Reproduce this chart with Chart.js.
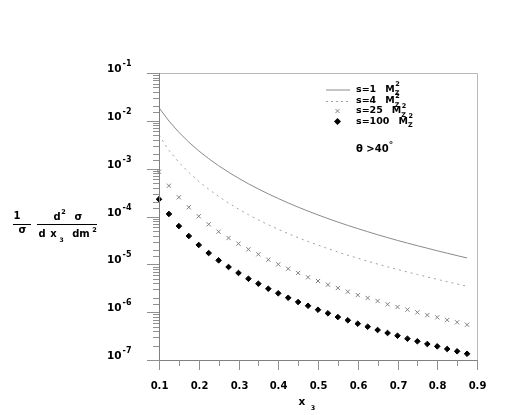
<!DOCTYPE html>
<html>
<head>
<meta charset="utf-8">
<script src="https://cdn.jsdelivr.net/npm/chart.js@4.4.1/dist/chart.umd.min.js"></script>
<style>
  html, body { margin: 0; padding: 0; background: #fff; }
</style>
</head>
<body>
<canvas id="c" width="512" height="415"></canvas>
<script>
// x3 values where the curves were sampled
const xValues = [0.1, 0.125, 0.15, 0.175, 0.2, 0.225, 0.25, 0.275, 0.3, 0.325, 0.35, 0.375,
  0.4, 0.425, 0.45, 0.475, 0.5, 0.525, 0.55, 0.575, 0.6, 0.625, 0.65, 0.675, 0.7, 0.725,
  0.75, 0.775, 0.8, 0.825, 0.85, 0.875];

// s = 1 MZ^2 (solid)
const s1 = [1.88e-2, 9.92e-3, 5.76e-3, 3.59e-3, 2.36e-3, 1.62e-3, 1.153e-3, 8.43e-4, 6.32e-4, 4.83e-4,
  3.76e-4, 2.97e-4, 2.38e-4, 1.92e-4, 1.57e-4, 1.296e-4, 1.08e-4, 9.06e-5, 7.65e-5, 6.51e-5,
  5.58e-5, 4.81e-5, 4.16e-5, 3.62e-5, 3.16e-5, 2.78e-5, 2.45e-5, 2.17e-5, 1.92e-5, 1.71e-5,
  1.52e-5, 1.36e-5];

// s = 4 MZ^2 (dotted)
const s4 = [5.05e-3, 2.4e-3, 1.358e-3, 8.35e-4, 5.44e-4, 3.72e-4, 2.63e-4, 1.91e-4, 1.427e-4, 1.09e-4,
  8.49e-5, 6.72e-5, 5.4e-5, 4.39e-5, 3.61e-5, 3.0e-5, 2.52e-5, 2.13e-5, 1.81e-5, 1.55e-5,
  1.34e-5, 1.162e-5, 1.013e-5, 8.87e-6, 7.81e-6, 6.91e-6, 6.12e-6, 5.44e-6, 4.85e-6, 4.33e-6,
  3.88e-6, 3.48e-6];

// s = 25 MZ^2 (crosses)
const s25 = [8.65e-4, 4.4e-4, 2.52e-4, 1.56e-4, 1.01e-4, 6.87e-5, 4.81e-5, 3.55e-5, 2.7e-5, 2.06e-5,
  1.62e-5, 1.25e-5, 1.0e-5, 8.1e-6, 6.6e-6, 5.36e-6, 4.48e-6, 3.75e-6, 3.2e-6, 2.68e-6,
  2.28e-6, 1.98e-6, 1.71e-6, 1.46e-6, 1.28e-6, 1.13e-6, 9.9e-7, 8.7e-7, 7.8e-7, 6.86e-7,
  6.14e-7, 5.47e-7];

// s = 100 MZ^2 (diamonds)
const s100 = [2.29e-4, 1.13e-4, 6.3e-5, 3.9e-5, 2.54e-5, 1.72e-5, 1.21e-5, 8.8e-6, 6.6e-6, 5.0e-6,
  3.94e-6, 3.09e-6, 2.48e-6, 2.0e-6, 1.63e-6, 1.36e-6, 1.125e-6, 9.46e-7, 7.9e-7, 6.76e-7,
  5.74e-7, 4.97e-7, 4.24e-7, 3.67e-7, 3.22e-7, 2.79e-7, 2.46e-7, 2.16e-7, 1.93e-7, 1.7e-7,
  1.52e-7, 1.35e-7];

const legendLabels = ["s=1", "s=4", "s=25", "s=100"];
const xMin = 0.1, xMax = 0.9;
const yMin = 1e-7, yMax = 1e-1;

const FONT = '"DejaVu Sans", "Liberation Sans", sans-serif';

function pts(arr) {
  return xValues.map((x, i) => ({ x: x, y: arr[i] }));
}

function txt(ctx, s, x, y, size, align) {
  ctx.font = "bold " + size + "px " + FONT;
  ctx.textAlign = align || "left";
  ctx.textBaseline = "middle";
  ctx.fillText(s, x, y);
  return ctx.measureText(s).width;
}

const extras = {
  id: "extras",
  afterDraw(chart) {
    const ctx = chart.ctx;
    const a = chart.chartArea;
    const xs = chart.scales.x, ys = chart.scales.y;
    ctx.save();
    ctx.fillStyle = "#000";
    ctx.lineWidth = 1;

    // frame: top and right light, axes darker
    ctx.strokeStyle = "#b8b8b8";
    ctx.beginPath();
    ctx.moveTo(a.left, a.top + 0.5);
    ctx.lineTo(a.right + 0.5, a.top + 0.5);
    ctx.lineTo(a.right + 0.5, a.bottom);
    ctx.stroke();
    ctx.strokeStyle = "#808080";
    ctx.beginPath();
    ctx.moveTo(a.left + 0.5, a.top);
    ctx.lineTo(a.left + 0.5, a.bottom + 0.5);
    ctx.lineTo(a.right + 1, a.bottom + 0.5);
    ctx.stroke();

    // y ticks and labels
    ys.ticks.forEach(t => {
      const p = Math.round(ys.getPixelForValue(t.value)) + 0.5;
      const lg = Math.log10(t.value);
      const major = Math.abs(lg - Math.round(lg)) < 1e-6;
      ctx.strokeStyle = "#909090";
      ctx.beginPath();
      ctx.moveTo(a.left - (major ? 12 : 6), p);
      ctx.lineTo(a.left, p);
      ctx.stroke();
      if (major) {
        const w = txt(ctx, "10", 107, p - 4, 10.5);
        txt(ctx, "-" + Math.abs(Math.round(lg)), 107 + w + 1, p - 10, 8);
      }
    });

    // x ticks and labels
    xs.ticks.forEach(t => {
      const p = Math.round(xs.getPixelForValue(t.value)) + 0.5;
      const major = Math.abs(t.value * 10 - Math.round(t.value * 10)) < 1e-6;
      ctx.strokeStyle = "#909090";
      ctx.beginPath();
      ctx.moveTo(p, a.bottom);
      ctx.lineTo(p, a.bottom + (major ? 10 : 6));
      ctx.stroke();
      if (major) txt(ctx, t.value.toFixed(1), p, 386, 10, "center");
    });

    // x axis title
    txt(ctx, "x", 302, 402, 10.5, "center");
    txt(ctx, "3", 313, 408, 6.5, "center");

    // y axis title: 1/sigma d2sigma/(dx3 dm2)
    ctx.strokeStyle = "#000";
    txt(ctx, "1", 17, 216, 10, "center");
    ctx.beginPath(); ctx.moveTo(13, 224.5); ctx.lineTo(31, 224.5); ctx.stroke();
    txt(ctx, "σ", 22.5, 230, 10, "center");
    txt(ctx, "d", 57, 217, 10, "center");
    txt(ctx, "2", 63.5, 212, 6.5, "center");
    txt(ctx, "σ", 78.5, 217, 10, "center");
    ctx.beginPath(); ctx.moveTo(37, 224.5); ctx.lineTo(97, 224.5); ctx.stroke();
    txt(ctx, "d", 42, 234, 10, "center");
    txt(ctx, "x", 53.5, 234, 10, "center");
    txt(ctx, "3", 61.5, 240, 6, "center");
    txt(ctx, "dm", 81, 234, 10, "center");
    txt(ctx, "2", 94.5, 230, 6.5, "center");

    // legend
    const rows = [89.5, 101, 111, 121.5];
    ctx.strokeStyle = "#8a8a8a";
    ctx.beginPath(); ctx.moveTo(326, rows[0] + 0.5); ctx.lineTo(350, rows[0] + 0.5); ctx.stroke();
    ctx.strokeStyle = "#a0a0a0";
    ctx.setLineDash([2, 3]);
    ctx.beginPath(); ctx.moveTo(326, rows[1] + 0.5); ctx.lineTo(350, rows[1] + 0.5); ctx.stroke();
    ctx.setLineDash([]);
    ctx.strokeStyle = "#808080";
    ctx.beginPath();
    ctx.moveTo(335.5, rows[2] - 2); ctx.lineTo(339.5, rows[2] + 2);
    ctx.moveTo(339.5, rows[2] - 2); ctx.lineTo(335.5, rows[2] + 2);
    ctx.stroke();
    ctx.beginPath();
    ctx.moveTo(337.5, rows[3] - 3.5); ctx.lineTo(341, rows[3]);
    ctx.lineTo(337.5, rows[3] + 3.5); ctx.lineTo(334, rows[3]);
    ctx.closePath(); ctx.fill();
    legendLabels.forEach((lab, i) => {
      const w = txt(ctx, lab, 356, rows[i], 9.5);
      const mx = Math.max(385, 356 + w + 9);
      const mw = txt(ctx, "M", mx, rows[i], 9.5);
      txt(ctx, "2", mx + mw + 0.5, rows[i] - 5, 6.5);
      txt(ctx, "Z", mx + mw, rows[i] + 4, 6.5);
    });

    // angular cut
    const tw = txt(ctx, "θ >40", 356, 149, 10);
    txt(ctx, "°", 356 + tw, 146, 9);

    ctx.restore();
  }
};

new Chart(document.getElementById("c"), {
  type: "line",
  data: {
    datasets: [
      { label: "s=1", data: pts(s1), borderColor: "#8a8a8a", borderWidth: 1,
        pointRadius: 0, fill: false, tension: 0, clip: false },
      { label: "s=4", data: pts(s4), borderColor: "#a0a0a0", borderWidth: 1, borderDash: [2, 4],
        pointRadius: 0, fill: false, tension: 0, clip: false },
      { label: "s=25", data: pts(s25), showLine: false, pointStyle: "crossRot", pointRadius: 3,
        borderColor: "#808080", backgroundColor: "#808080", pointBorderWidth: 1, clip: false },
      { label: "s=100", data: pts(s100), showLine: false, pointStyle: "rectRot", pointRadius: 2.8,
        borderColor: "#000", backgroundColor: "#000", pointBorderWidth: 1, clip: false }
    ]
  },
  options: {
    responsive: false,
    animation: false,
    events: [],
    layout: { padding: { top: 73, right: 35, bottom: 0, left: 0 } },
    plugins: { legend: { display: false }, tooltip: { enabled: false } },
    scales: {
      x: {
        type: "linear", min: xMin, max: xMax,
        ticks: { display: false, stepSize: 0.05 },
        grid: { display: false }, border: { display: false },
        afterFit: s => { s.height = 55; }
      },
      y: {
        type: "logarithmic", min: yMin, max: yMax,
        ticks: { display: false },
        grid: { display: false }, border: { display: false },
        afterFit: s => { s.width = 159; }
      }
    }
  },
  plugins: [extras]
});
</script>
</body>
</html>
